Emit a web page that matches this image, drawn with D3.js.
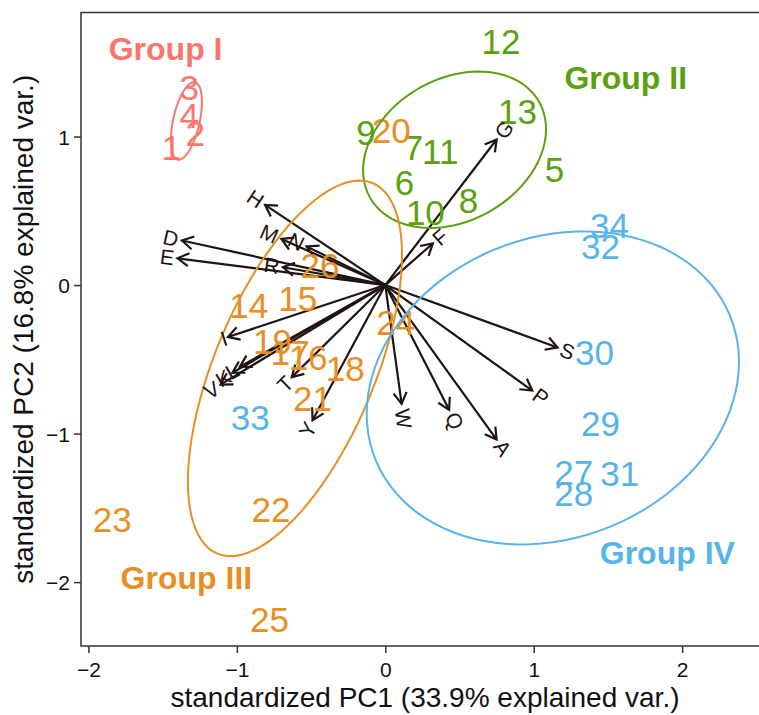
<!DOCTYPE html>
<html>
<head>
<meta charset="utf-8">
<script src="https://cdn.jsdelivr.net/npm/d3@7"></script>
<style>
  body { margin: 0; background: #fff; }
  svg { display: block; font-family: "Liberation Sans", Arial, sans-serif; }
</style>
</head>
<body>
<svg id="chart" width="759" height="715"></svg>
<script>
'use strict';

const sampleIds = ['1','2','3','4','5','6','7','8','9','10','11','12','13','14','15','16','17',
  '18','19','20','21','22','23','24','25','26','27','28','29','30','31','32','33','34'];
const sampleGroup = [0,0,0,0,1,1,1,1,1,1,1,1,1,2,2,2,2,2,2,2,2,2,2,2,2,2,3,3,3,3,3,3,3,3];
const pc1 = [-1.44,-1.28,-1.32,-1.32,1.14,0.13,0.19,0.56,-0.13,0.27,0.37,0.78,0.89,-0.92,-0.59,
  -0.52,-0.64,-0.27,-0.76,0.04,-0.49,-0.77,-1.84,0.07,-0.78,-0.44,1.27,1.27,1.45,1.41,1.58,1.45,-0.91,1.51];
const pc2 = [0.93,1.02,1.33,1.14,0.78,0.69,0.93,0.57,1.03,0.49,0.90,1.64,1.17,-0.14,-0.09,
  -0.49,-0.45,-0.56,-0.38,1.04,-0.76,-1.51,-1.58,-0.25,-2.25,0.13,-1.26,-1.40,-0.93,-0.45,-1.27,0.26,-0.89,0.40];

// variable loadings (arrow tips)
const varNames = ['A','D','E','F','G','H','I','K','L','M','N','P','Q','R','S','T','V','W','Y'];
const varPC1 = [0.75,-1.37,-1.40,0.32,0.75,-0.81,-1.06,-1.03,-0.98,-0.70,-0.53,0.99,0.43,-0.69,1.16,-0.63,-1.11,0.11,-0.49];
const varPC2 = [-1.04,0.30,0.18,0.28,0.98,0.54,-0.35,-0.59,-0.55,0.31,0.26,-0.71,-0.84,0.12,-0.42,-0.62,-0.67,-0.80,-0.91];

const groupNames = ['Group I', 'Group II', 'Group III', 'Group IV'];
const groupColors = ['#F8766D', '#5AA10F', '#E88E22', '#56B4E9'];
const groupLabelX = [-1.48, 1.62, -1.34, 1.90];
const groupLabelY = [1.59, 1.40, -1.97, -1.80];

const xTicks = [-2, -1, 0, 1, 2];
const yTicks = [-2, -1, 0, 1];
const xTitle = 'standardized PC1 (33.9% explained var.)';
const yTitle = 'standardized PC2 (16.8% explained var.)';

const svg = d3.select('#chart');
const mLeft = 81, mTop = 12.5, mRight = 769, mBottom = 646;
const x = d3.scaleLinear().domain([-2.05, 2.585]).range([mLeft, mRight]);
const y = d3.scaleLinear().domain([-2.43, 1.835]).range([mBottom, mTop]);
const ink = '#1f1412';

// axes
const gx = svg.append('g').attr('transform', `translate(0,${mBottom})`)
  .call(d3.axisBottom(x).tickValues(xTicks).tickSize(7).tickPadding(4).tickFormat(d3.format('d')));
const gy = svg.append('g').attr('transform', `translate(${mLeft},0)`)
  .call(d3.axisLeft(y).tickValues(yTicks).tickSize(7).tickPadding(4).tickFormat(d3.format('d')));
[gx, gy].forEach((g) => {
  g.select('.domain').remove();
  g.selectAll('line').attr('stroke', '#333').attr('stroke-width', 1.5);
  g.selectAll('text').attr('fill', '#111').style('font-size', '21px')
    .style('font-family', '"Liberation Sans", Arial, sans-serif');
});
gx.selectAll('text').attr('dy', '0.95em');
gy.selectAll('text').attr('dy', '0.36em');

svg.append('text')
  .attr('x', (mLeft + mRight) / 2).attr('y', 707)
  .attr('text-anchor', 'middle').style('font-size', '28px').attr('fill', '#111')
  .text(xTitle);
svg.append('text')
  .attr('transform', `translate(33,${(mTop + mBottom) / 2}) rotate(-90)`)
  .attr('text-anchor', 'middle').style('font-size', '28px').attr('fill', '#111')
  .text(yTitle);

const plot = svg.append('g');

// arrows
const ox = x(0), oy = y(0);
const headLen = 13, headAng = Math.PI / 6;
varNames.forEach((v, i) => {
  const tx = x(varPC1[i]), ty = y(varPC2[i]);
  const a = Math.atan2(ty - oy, tx - ox);
  const h1 = [tx - headLen * Math.cos(a - headAng), ty - headLen * Math.sin(a - headAng)];
  const h2 = [tx - headLen * Math.cos(a + headAng), ty - headLen * Math.sin(a + headAng)];
  plot.append('line')
    .attr('x1', ox).attr('y1', oy).attr('x2', tx).attr('y2', ty)
    .attr('stroke', ink).attr('stroke-width', 2.2);
  plot.append('path')
    .attr('d', `M${h1[0]},${h1[1]}L${tx},${ty}L${h2[0]},${h2[1]}`)
    .attr('fill', 'none').attr('stroke', ink).attr('stroke-width', 2.2)
    .attr('stroke-linejoin', 'miter');
});

// observation labels
plot.selectAll('text.obs')
  .data(sampleIds)
  .join('text')
  .attr('class', 'obs')
  .attr('x', (d, i) => x(pc1[i]))
  .attr('y', (d, i) => y(pc2[i]))
  .attr('dy', '0.36em')
  .attr('text-anchor', 'middle')
  .style('font-size', '35px')
  .attr('fill', (d, i) => groupColors[sampleGroup[i]])
  .text((d) => d);

// normal-probability ellipses, as ggbiplot computes them (prob = 0.68)
const ed = Math.sqrt(-2 * Math.log(1 - 0.68));
const theta = d3.range(101).map((k) => -Math.PI + (2 * Math.PI * k) / 100);
groupNames.forEach((g, gi) => {
  const idx = d3.range(pc1.length).filter((i) => sampleGroup[i] === gi);
  const xs = idx.map((i) => pc1[i]), ys = idx.map((i) => pc2[i]);
  const mx = d3.mean(xs), my = d3.mean(ys), n = xs.length;
  const sxx = d3.sum(xs, (v) => (v - mx) ** 2) / (n - 1);
  const syy = d3.sum(ys, (v) => (v - my) ** 2) / (n - 1);
  const sxy = d3.sum(idx, (i, k) => (xs[k] - mx) * (ys[k] - my)) / (n - 1);
  const a = Math.sqrt(sxx), b = sxy / a, c = Math.sqrt(syy - b * b);
  const pts = theta.map((t) => [
    x(mx + ed * Math.cos(t) * a),
    y(my + ed * (Math.cos(t) * b + Math.sin(t) * c)),
  ]);
  plot.append('path')
    .attr('d', d3.line()(pts))
    .attr('fill', 'none').attr('stroke', groupColors[gi]).attr('stroke-width', 2);
});

// variable names at the arrow tips, turned along the arrow
varNames.forEach((v, i) => {
  const tx = x(varPC1[i]), ty = y(varPC2[i]);
  const ang = (180 / Math.PI) * Math.atan(varPC2[i] / varPC1[i]);
  const t = plot.append('text')
    .attr('transform', `translate(${tx},${ty}) rotate(${-ang})`)
    .attr('dy', '0.36em')
    .style('font-size', '21px')
    .attr('fill', ink)
    .text(v);
  const w = t.node().getComputedTextLength();
  if (varPC1[i] > 0) t.attr('text-anchor', 'start').attr('dx', 0.25 * w);
  else t.attr('text-anchor', 'end').attr('dx', -0.25 * w);
});

// group names
groupNames.forEach((g, gi) => {
  plot.append('text')
    .attr('x', x(groupLabelX[gi])).attr('y', y(groupLabelY[gi]))
    .attr('dy', '0.36em').attr('text-anchor', 'middle')
    .style('font-size', '32px').style('font-weight', 'bold')
    .attr('fill', groupColors[gi])
    .text(g);
});

// panel border
svg.append('rect')
  .attr('x', mLeft).attr('y', mTop).attr('width', mRight - mLeft).attr('height', mBottom - mTop)
  .attr('fill', 'none').attr('stroke', '#333').attr('stroke-width', 1.5);
</script>
</body>
</html>
